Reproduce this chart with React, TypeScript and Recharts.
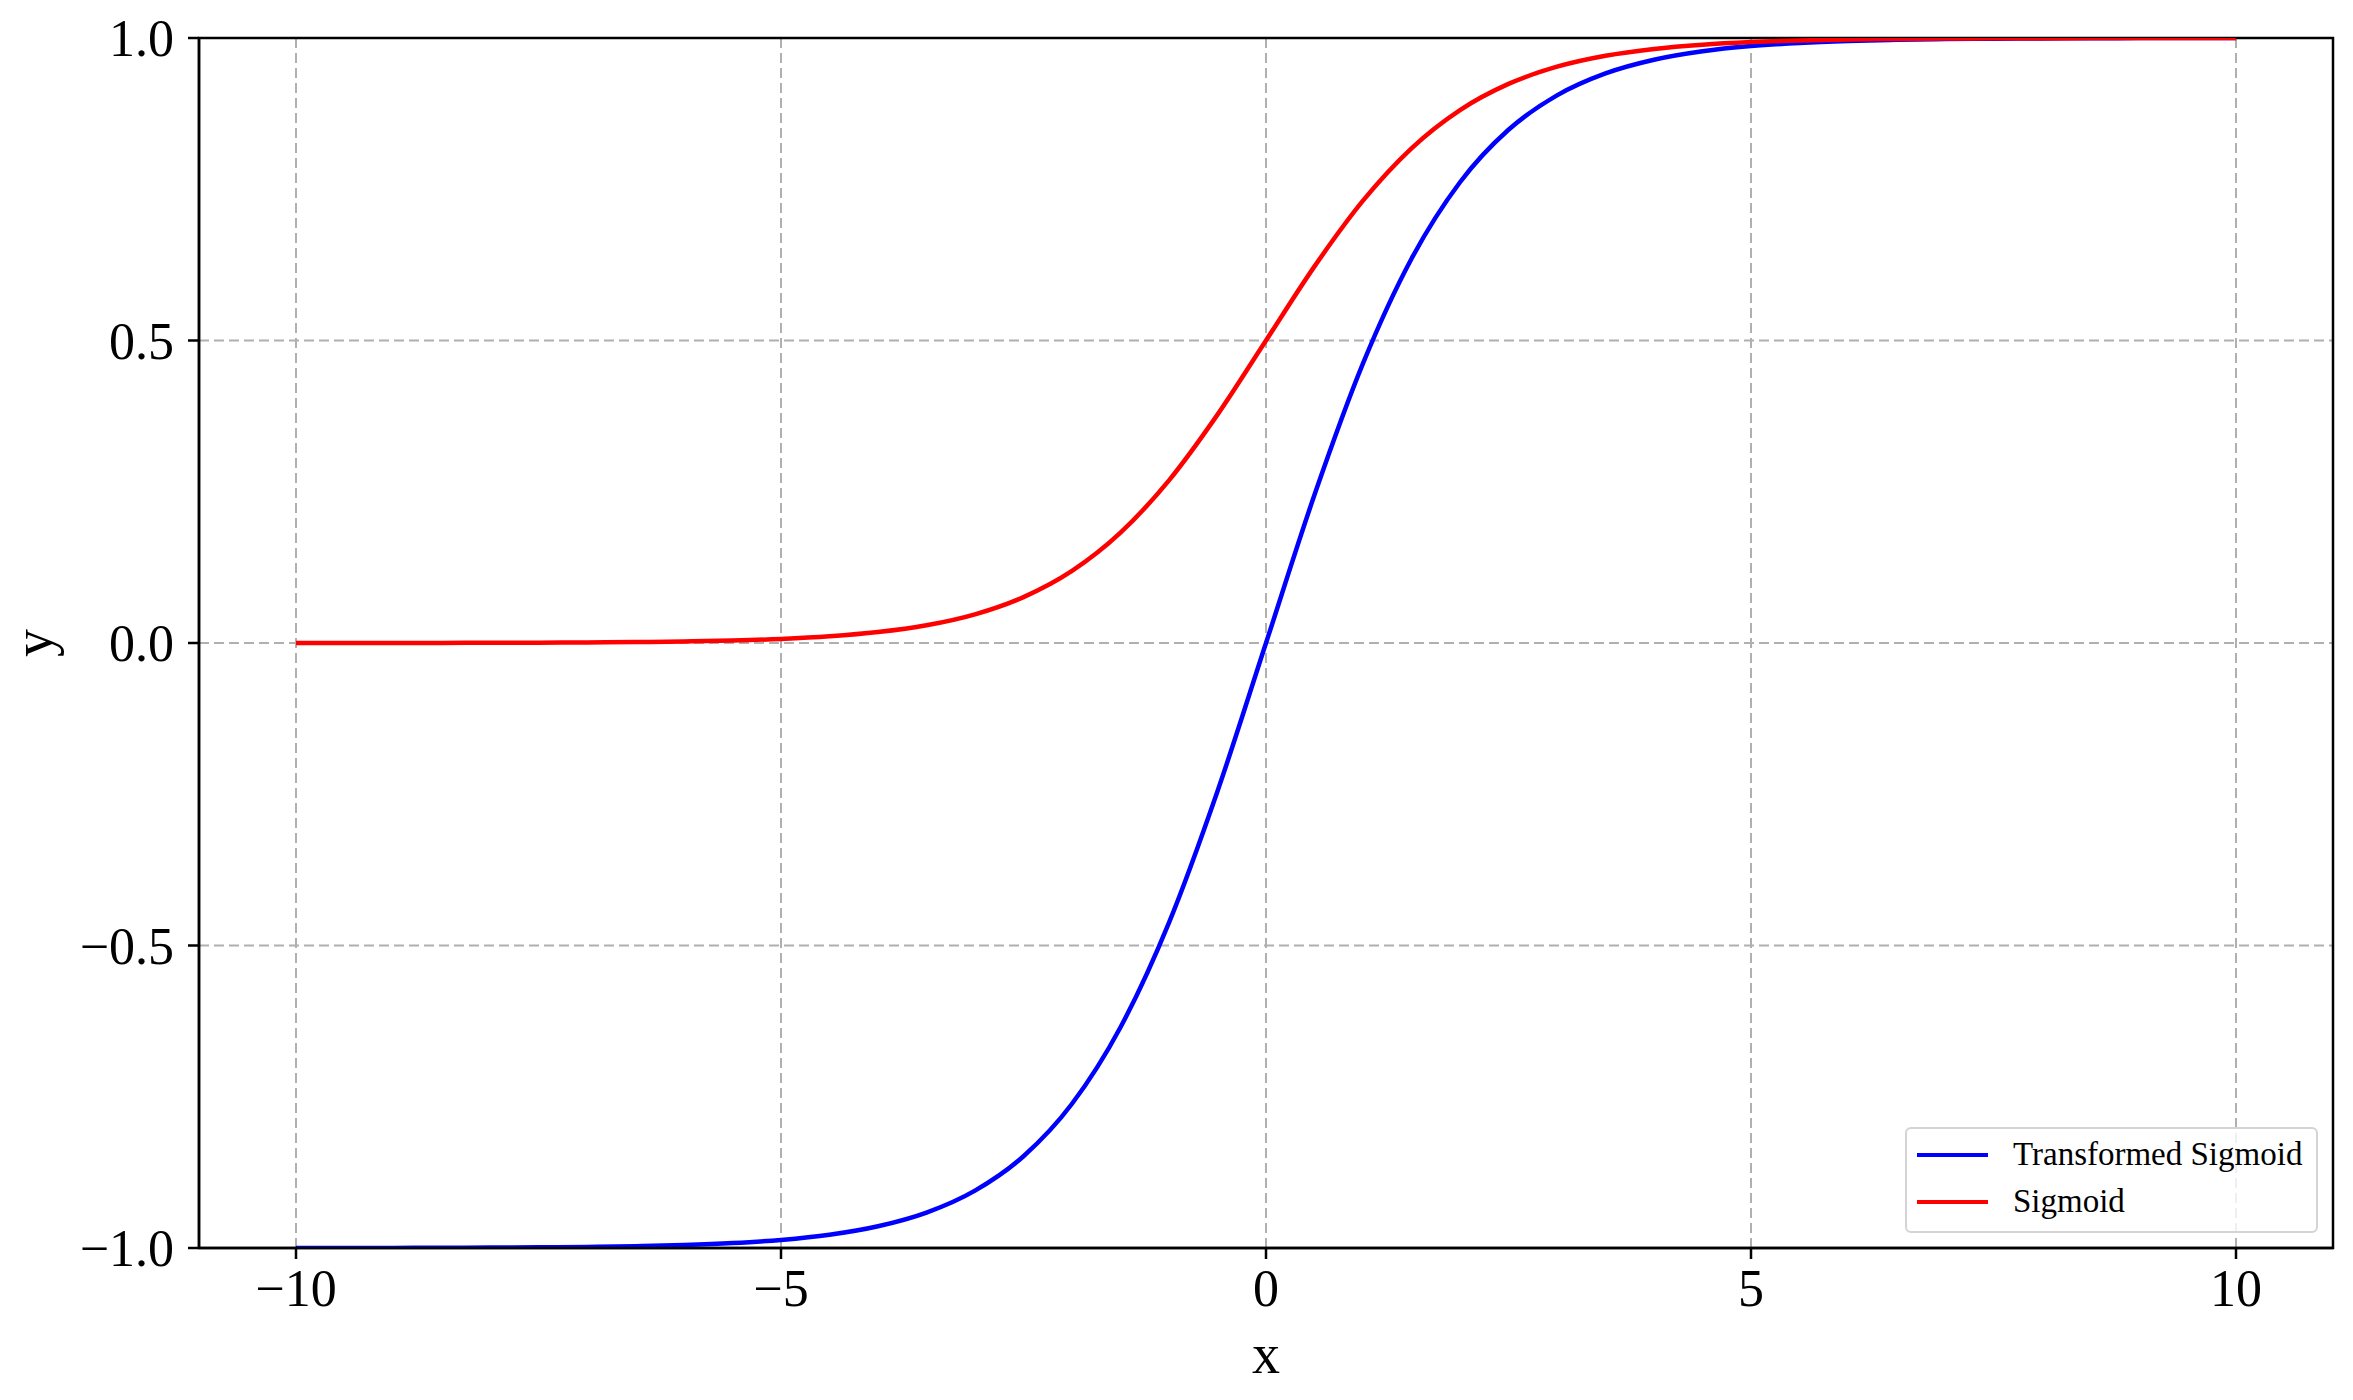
import {
  LineChart,
  Line,
  XAxis,
  YAxis,
  CartesianGrid,
  ReferenceArea,
} from "recharts";

// x positions sampled along the curves
const X_VALUES = [
  -10, -9.5, -9, -8.5, -8, -7.5, -7, -6.5, -6, -5.5, -5, -4.5, -4, -3.5, -3,
  -2.5, -2, -1.5, -1, -0.5, 0, 0.5, 1, 1.5, 2, 2.5, 3, 3.5, 4, 4.5, 5, 5.5, 6,
  6.5, 7, 7.5, 8, 8.5, 9, 9.5, 10,
];

// red curve
const SIGMOID = [
  0.0, 0.0001, 0.0001, 0.0002, 0.0003, 0.0006, 0.0009, 0.0015, 0.0025, 0.0041,
  0.0067, 0.011, 0.018, 0.0293, 0.0474, 0.0759, 0.1192, 0.1824, 0.2689, 0.3775,
  0.5, 0.6225, 0.7311, 0.8176, 0.8808, 0.9241, 0.9526, 0.9707, 0.982, 0.989,
  0.9933, 0.9959, 0.9975, 0.9985, 0.9991, 0.9994, 0.9997, 0.9998, 0.9999,
  0.9999, 1.0,
];

// blue curve
const TRANSFORMED = [
  -0.9999, -0.9998, -0.9998, -0.9996, -0.9993, -0.9989, -0.9982, -0.997,
  -0.9951, -0.9919, -0.9866, -0.978, -0.964, -0.9414, -0.9051, -0.8483, -0.7616,
  -0.6351, -0.4621, -0.2449, 0.0, 0.2449, 0.4621, 0.6351, 0.7616, 0.8483,
  0.9051, 0.9414, 0.964, 0.978, 0.9866, 0.9919, 0.9951, 0.997, 0.9982, 0.9989,
  0.9993, 0.9996, 0.9998, 0.9998, 0.9999,
];

const X_TICKS = [-10, -5, 0, 5, 10];
const Y_TICKS = [-1, -0.5, 0, 0.5, 1];

const FONT = "'Liberation Serif', 'Times New Roman', serif";

const chartData = X_VALUES.map((x, i) => ({
  x,
  sigmoid: SIGMOID[i],
  transformed: TRANSFORMED[i],
}));

const minus = (s: string) => s.replace("-", "\u2212");

function LegendBox() {
  const items = [
    { label: "Transformed Sigmoid", color: "#0000ff" },
    { label: "Sigmoid", color: "#ff0000" },
  ];
  return (
    <div
      style={{
        position: "absolute",
        left: 1905,
        top: 1127,
        boxSizing: "border-box",
        width: 413,
        height: 106,
        border: "2.5px solid #d4d4d4",
        borderRadius: 6,
        background: "rgba(255,255,255,0.8)",
        padding: "2px 0 0 10px",
        fontFamily: FONT,
        fontSize: 33,
        color: "#000",
      }}
    >
      {items.map((it) => (
        <div
          key={it.label}
          style={{ display: "flex", alignItems: "center", height: 47 }}
        >
          <span
            style={{
              display: "inline-block",
              width: 71,
              height: 4,
              background: it.color,
              marginRight: 25,
            }}
          />
          <span>{it.label}</span>
        </div>
      ))}
    </div>
  );
}

export default function App() {
  return (
    <div
      style={{
        position: "absolute",
        left: 0,
        top: 0,
        width: 2353,
        height: 1400,
        background: "#fff",
      }}
    >
      <LineChart
        width={2353}
        height={1400}
        data={chartData}
        margin={{ top: 38, right: 20, left: 0, bottom: 0 }}
      >
        <CartesianGrid
          stroke="#b0b0b0"
          strokeDasharray="10 5"
          strokeWidth={2}
        />
        <ReferenceArea
          x1={-11}
          x2={11}
          y1={-1}
          y2={1}
          fill="none"
          fillOpacity={0}
          stroke="#000"
          strokeWidth={2.5}
        />
        <XAxis
          dataKey="x"
          type="number"
          domain={[-11, 11]}
          ticks={X_TICKS}
          allowDataOverflow
          height={152}
          stroke="#000"
          strokeWidth={2.5}
          tickSize={11}
          tickMargin={10}
          tick={{ fill: "#000", fontSize: 52, fontFamily: FONT }}
          tickFormatter={(v: number) => minus(String(v))}
          label={{
            value: "x",
            position: "insideBottom",
            offset: 27,
            style: { fontSize: 56, fontFamily: FONT, fill: "#000" },
          }}
        />
        <YAxis
          type="number"
          domain={[-1, 1]}
          ticks={Y_TICKS}
          allowDataOverflow
          width={199}
          stroke="#000"
          strokeWidth={2.5}
          tickSize={11}
          tickMargin={14}
          tick={{ fill: "#000", fontSize: 52, fontFamily: FONT }}
          tickFormatter={(v: number) => minus(v.toFixed(1))}
          label={{
            value: "y",
            angle: -90,
            position: "insideLeft",
            offset: 32,
            style: {
              fontSize: 56,
              fontFamily: FONT,
              fill: "#000",
              textAnchor: "middle",
            },
          }}
        />
        <Line
          type="monotone"
          dataKey="transformed"
          name="Transformed Sigmoid"
          stroke="#0000ff"
          strokeWidth={4.5}
          dot={false}
          isAnimationActive={false}
        />
        <Line
          type="monotone"
          dataKey="sigmoid"
          name="Sigmoid"
          stroke="#ff0000"
          strokeWidth={4.5}
          dot={false}
          isAnimationActive={false}
        />
      </LineChart>
      <LegendBox />
    </div>
  );
}
